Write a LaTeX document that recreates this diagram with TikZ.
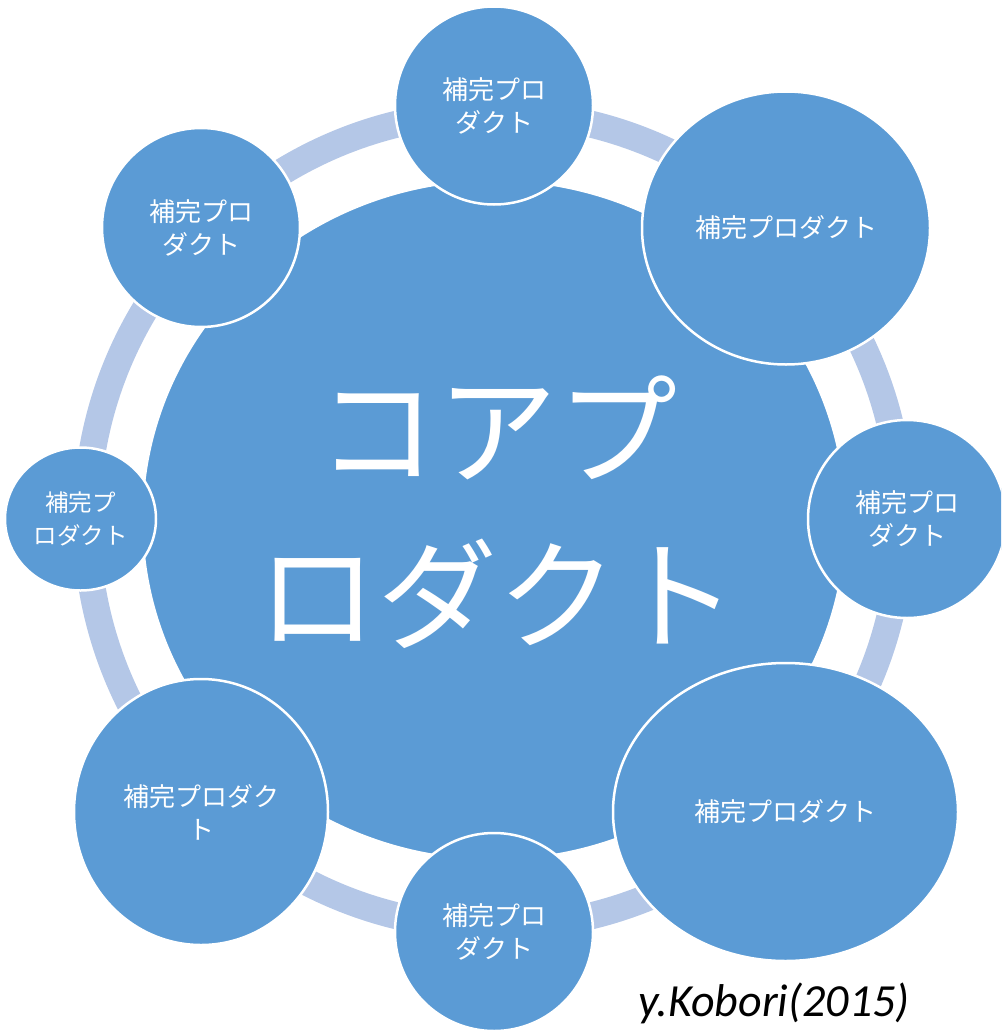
\documentclass[tikz,border=0pt]{standalone}
\usepackage{fontspec}
\newfontfamily\jp{Noto Sans CJK JP}
\newfontfamily\carlito{Carlito}
\usetikzlibrary{shapes.geometric}
\definecolor{mainblue}{HTML}{5B9BD5}
\definecolor{ringblue}{HTML}{B4C7E7}
\begin{document}
\begin{tikzpicture}[x=1pt,y=-1pt,
  bubble/.style={ellipse, draw=white, line width=2.5pt, fill=mainblue, text=white,
    inner sep=0pt, align=center, font=\jp\fontsize{26}{33}\selectfont},
  ringband/.style={draw=ringblue, line width=27pt},
]
\useasboundingbox (0,0) rectangle (1001,1033);
\clip (0,0) rectangle (1001,1033);
\coordinate (c) at (494,520);
\draw[ringband] (c) circle[radius=407.5pt];
\node[bubble, minimum width=704pt, minimum height=680pt] (core) at (c) {};
\node[text=white, align=center, inner sep=0pt,
  font=\jp\fontsize{120}{165}\selectfont] (coretext) at (497,512) {コアプ\\ロダクト};
\node[bubble, minimum width=198pt, minimum height=198pt] (n1) at (494,105.5) {補完プロ\\ダクト};
\node[bubble, minimum width=288pt, minimum height=273pt] (n2) at (786,228) {補完プロダクト};
\node[bubble, minimum width=198pt, minimum height=198pt] (n3) at (907,519) {補完プロ\\ダクト};
\node[bubble, minimum width=345pt, minimum height=298pt] (n4) at (785.5,812) {補完プロダクト};
\node[bubble, minimum width=198pt, minimum height=198pt] (n5) at (494,932) {補完プロ\\ダクト};
\node[bubble, minimum width=254pt, minimum height=266pt] (n6) at (201,812) {補完プロダク\\ト};
\node[bubble, minimum width=151pt, minimum height=143pt,
  font=\jp\fontsize{23.5}{33}\selectfont] (n7) at (80.5,519) {補完プ\\ロダクト};
\node[bubble, minimum width=198pt, minimum height=199pt] (n8) at (201,227.5) {補完プロ\\ダクト};
\node[font=\carlito\itshape\fontsize{46}{50}\selectfont, anchor=base] (credit) at (774,1016) {y.Kobori(2015)};
\end{tikzpicture}
\end{document}
